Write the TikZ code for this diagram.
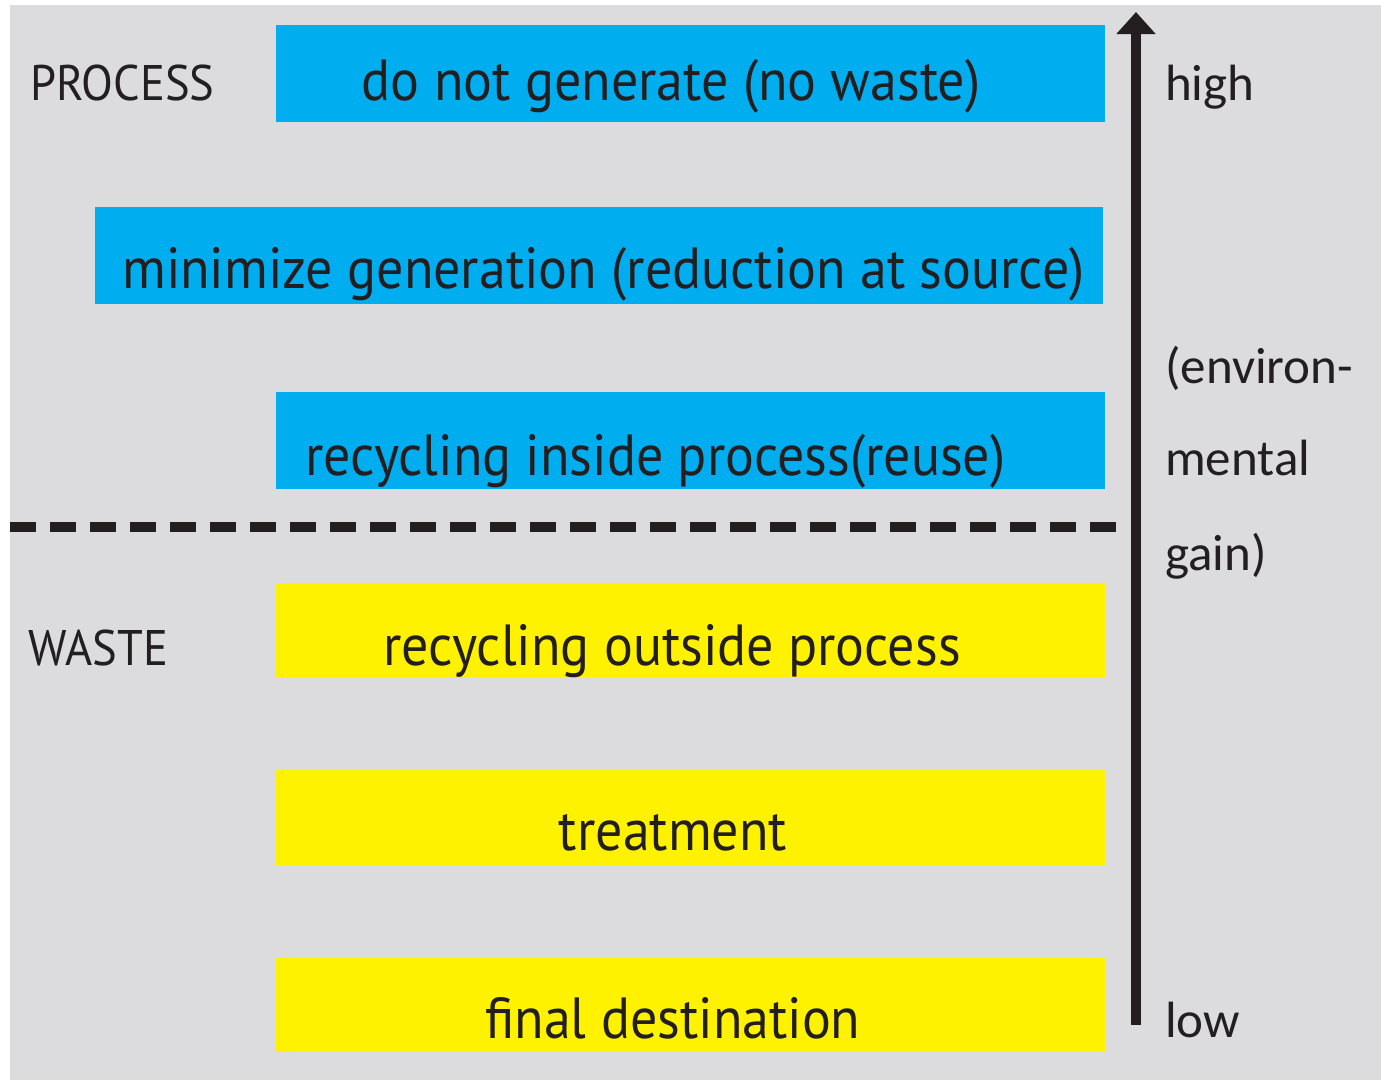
\documentclass[tikz,border=0pt]{standalone}
\usepackage{fontspec}
\setmainfont[FakeStretch=0.93]{PT Sans}
\newfontfamily\sidefont{Carlito}
\usetikzlibrary{arrows.meta}
\definecolor{panel}{HTML}{DCDCDE}
\definecolor{skyblue}{HTML}{00ADEF}
\definecolor{lemon}{HTML}{FFF200}
\definecolor{ink}{HTML}{231F20}
\begin{document}
\begin{tikzpicture}[x=1pt,y=-1pt,
  bar/.style={anchor=north west, inner sep=0pt, outer sep=0pt,
    minimum height=97pt, draw=none},
  longbar/.style={bar, minimum width=829pt},
  bartext/.style={anchor=base, inner sep=0pt, text=ink,
    font=\fontsize{58}{64}\selectfont},
  grouptext/.style={anchor=base west, inner sep=0pt, text=ink,
    font=\fontsize{50}{56}\selectfont},
  sidetext/.style={anchor=base west, inner sep=0pt, text=ink,
    font=\sidefont\fontsize{51}{57}\selectfont},
  levelarrow/.style={line width=10pt, ink, -{Triangle[width=38pt,length=22pt]}},
  divider/.style={line width=10pt, ink, dash pattern=on 26pt off 14pt}]
\useasboundingbox (0,0) rectangle (1381,1080);
\fill[white] (0,0) rectangle (1381,1080);
\fill[panel] (10,5) rectangle (1381,1080);

% process-side options (blue)
\node[longbar, fill=skyblue] (b1) at (276,25) {};
\node[bar, fill=skyblue, minimum width=1008pt] (b2) at (95,207) {};
\node[longbar, fill=skyblue] (b3) at (276,392) {};
% waste-side options (yellow)
\node[longbar, fill=lemon, minimum height=95pt] (b4) at (276,583) {};
\node[longbar, fill=lemon, minimum height=95pt] (b5) at (276,770) {};
\node[longbar, fill=lemon, minimum height=94pt] (b6) at (276,958) {};

\node[bartext] (t1) at (671,100) {do not generate (no waste)};
\node[bartext, anchor=base west] (t2) at (122,288) {minimize generation (reduction at source)};
\node[bartext, anchor=base west] (t3) at (305,475) {recycling inside process(reuse)};
\node[bartext] (t4) at (672,665) {recycling outside process};
\node[bartext] (t5) at (673,850) {treatment};
\node[bartext] (t6) at (673,1038) {final destination};

% group labels
\node[grouptext] (process) at (30,100) {PROCESS};
\node[grouptext] (waste) at (28,665) {WASTE};

% boundary between process and waste
\coordinate (dl) at (10,527);
\coordinate (dr) at (1116,527);
\draw[divider] (dl) -- (dr);

% scale of environmental gain
\coordinate (low) at (1136,1025);
\coordinate (high) at (1136,12);
\draw[levelarrow] (low) -- (high);

\node[sidetext] (hi) at (1165,100) {high};
\node[sidetext] (g1) at (1165,383) {(environ-};
\node[sidetext] (g2) at (1165,475) {mental};
\node[sidetext] (g3) at (1165,570) {gain)};
\node[sidetext] (lo) at (1165,1037) {low};
\end{tikzpicture}
\end{document}
